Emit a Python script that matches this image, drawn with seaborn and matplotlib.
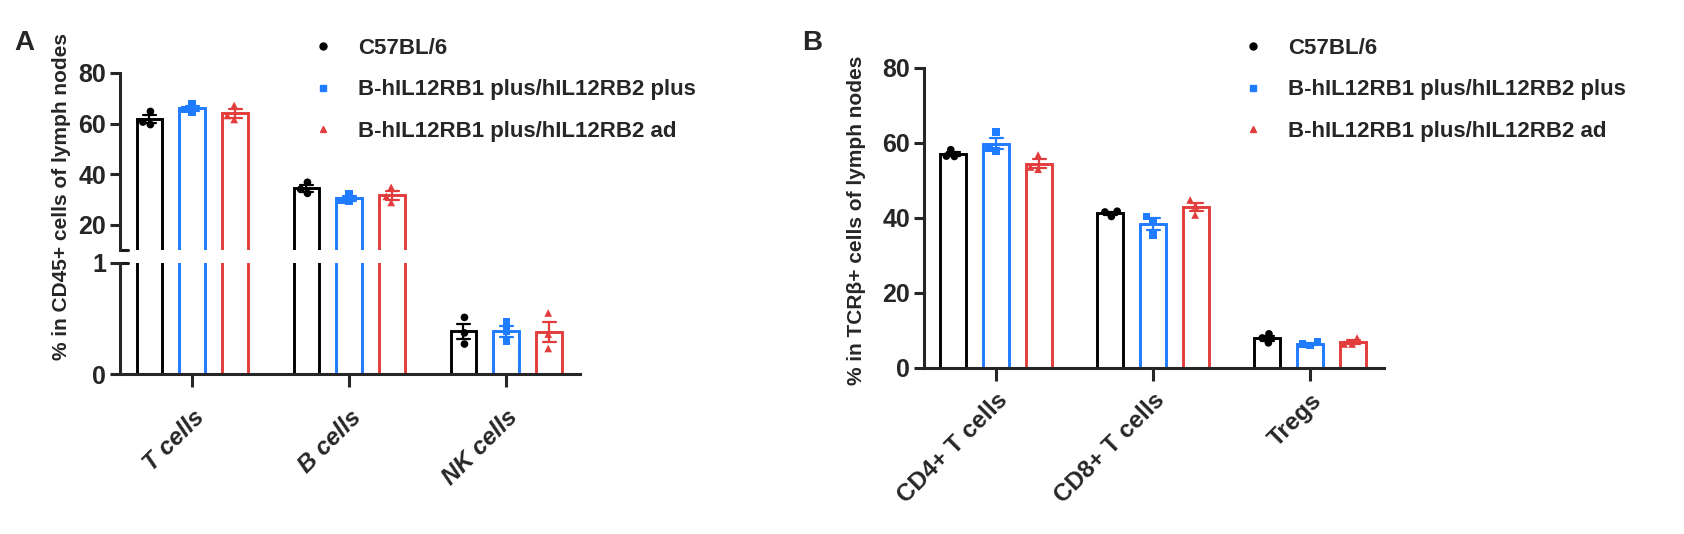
import matplotlib
matplotlib.use('Agg')
import matplotlib.pyplot as plt
from matplotlib.lines import Line2D
import pandas as pd
import seaborn as sns

groups = ['C57BL/6', 'B-hIL12RB1 plus/hIL12RB2 plus', 'B-hIL12RB1 plus/hIL12RB2 ad']
colors = ['#000000', '#1F7BFF', '#E23C3C']
markers = ['o', 's', '^']

# panel A: % in CD45+ cells, 3 mice per group
cells_a = ['T cells', 'B cells', 'NK cells']
a_c57 = [[64.8, 59.6, 60.6], [36.8, 32.4, 34.0], [0.51, 0.37, 0.27]]
a_plus = [[68.0, 64.4, 65.6], [32.4, 29.2, 29.6], [0.47, 0.39, 0.30]]
a_ad = [[67.2, 63.2, 61.6], [34.8, 28.8, 31.2], [0.55, 0.36, 0.23]]

# panel B: % in TCRb+ cells
cells_b = ['CD4+ T cells', 'CD8+ T cells', 'Tregs']
b_c57 = [[58.2, 56.5, 56.4], [41.8, 40.4, 41.6], [9.1, 6.7, 8.0]]
b_plus = [[62.9, 57.9, 58.7], [40.4, 39.3, 35.4], [6.0, 6.4, 6.9]]
b_ad = [[56.8, 53.0, 53.6], [44.8, 43.2, 40.8], [8.0, 6.4, 6.4]]


def to_long(cells, *series):
    rows = []
    for g, vals in zip(groups, series):
        for c, reps in zip(cells, vals):
            for v in reps:
                rows.append((c, g, v))
    return pd.DataFrame(rows, columns=['cell', 'group', 'value'])


def draw(ax, df, cells):
    sns.barplot(data=df, x='cell', y='value', hue='group', order=cells, hue_order=groups,
                palette=colors, fill=False, saturation=1, width=0.82, gap=0.4,
                errorbar='se', capsize=0.25, err_kws={'linewidth': 1.6}, linewidth=2.1,
                legend=False, ax=ax)
    for g, m in zip(groups, markers):
        sns.swarmplot(data=df[df.group == g], x='cell', y='value', hue='group', order=cells,
                      hue_order=groups, palette=colors, dodge=True, marker=m, size=5.5,
                      linewidth=0, legend=False, ax=ax)
    ax.set_xlim(-0.46, 2.47)
    ax.set_xlabel('')
    ax.set_ylabel('')
    sns.despine(ax=ax)
    for s in ['left', 'bottom']:
        ax.spines[s].set_linewidth(2.2)
    ax.tick_params(width=2.2, length=7, pad=3)
    ax.tick_params(axis='y', labelsize=18)


sns.set_theme(style='ticks')
plt.rcParams['font.family'] = ['Liberation Sans', 'DejaVu Sans']
plt.rcParams['font.weight'] = 'bold'

df_a = to_long(cells_a, a_c57, a_plus, a_ad)
df_b = to_long(cells_b, b_c57, b_plus, b_ad)

fig = plt.figure(figsize=(16.84, 5.34), dpi=100)
axA_top = fig.add_axes([0.0713, 0.5318, 0.2732, 0.3315])
axA_bot = fig.add_axes([0.0713, 0.2996, 0.2732, 0.2079])
axB = fig.add_axes([0.5487, 0.3109, 0.2732, 0.5618])

draw(axA_top, df_a, cells_a)
draw(axA_bot, df_a, cells_a)
draw(axB, df_b, cells_b)

# broken y axis for panel A
axA_top.set_ylim(10, 80)
axA_top.set_yticks([20, 40, 60, 80])
axA_top.spines['bottom'].set_visible(False)
axA_top.tick_params(axis='x', bottom=False, labelbottom=False)
axA_bot.set_ylim(0, 1)
axA_bot.set_yticks([0, 1])
axA_top.plot([0, 0.018], [0, 0], transform=axA_top.transAxes, color='k', lw=2.2, clip_on=False)
axA_bot.plot([0, 0.018], [1, 1], transform=axA_bot.transAxes, color='k', lw=2.2, clip_on=False)

axB.set_ylim(0, 80)
axB.set_yticks([0, 20, 40, 60, 80])

for ax, pad, style in [(axA_bot, 14, 'italic'), (axB, 6, 'normal')]:
    ax.tick_params(axis='x', length=9, labelsize=17.5, pad=pad)
    for lab in ax.get_xticklabels():
        lab.set_rotation(45)
        lab.set_ha('right')
        lab.set_rotation_mode('anchor')
        lab.set_style(style)

fig.text(62 / 1684, 1 - 196 / 534, '% in CD45+ cells of lymph nodes', rotation=90,
         ha='center', va='center', fontsize=15, fontweight='bold')
fig.text(856 / 1684, 1 - 220 / 534, '% in TCRβ+ cells of lymph nodes', rotation=90,
         ha='center', va='center', fontsize=15, fontweight='bold')
fig.text(14 / 1684, 1 - 30 / 534, 'A', fontsize=20, fontweight='bold', va='top')
fig.text(802 / 1684, 1 - 30 / 534, 'B', fontsize=20, fontweight='bold', va='top')

handles = [Line2D([], [], linestyle='none', marker=m, color=c, markersize=5)
           for m, c in zip(markers, colors)]
for x0 in [312, 1242]:
    fig.legend(handles, groups, loc='upper left', bbox_to_anchor=(x0 / 1684, 1 - 38 / 534),
               frameon=False, borderpad=0, borderaxespad=0, handlelength=1,
               handletextpad=1.08, labelspacing=0.92, prop={'size': 16, 'weight': 'bold'})

fig.savefig('out.png', dpi=100)
